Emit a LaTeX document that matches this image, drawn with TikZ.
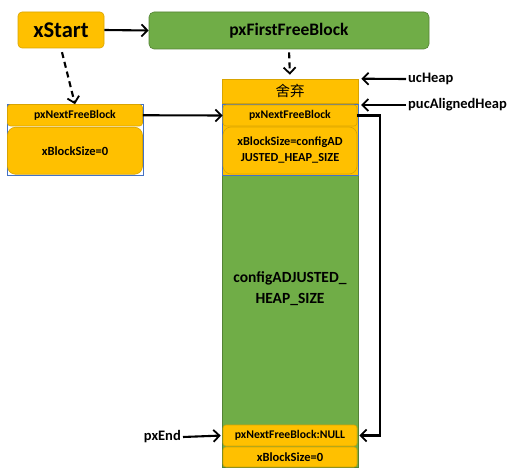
\documentclass[tikz,border=0pt]{standalone}
\usepackage{fontspec}
\setmainfont{Carlito}
\newfontfamily\cjk{Noto Sans CJK SC}
\usetikzlibrary{arrows.meta,calc}
\definecolor{orng}{HTML}{FFC000}
\definecolor{orngd}{HTML}{D9A400}
\definecolor{grn}{HTML}{70AD47}
\definecolor{grnd}{HTML}{548235}
\definecolor{blu}{HTML}{4472C4}
\tikzset{
  x=1pt,y=-1pt,
  conn/.style={line width=2.1pt,-{Straight Barb[length=6pt,width=12pt,line width=1.8pt]}},
  dconn/.style={conn,dash pattern=on 6pt off 4pt},
  obox/.style={draw=orngd,fill=orng,line width=0.6pt,font=\bfseries},
  lbl/.style={font=\bfseries\fontsize{14.5}{16}\selectfont,anchor=west,inner sep=2pt},
}
\begin{document}
\begin{tikzpicture}
\useasboundingbox (0,0) rectangle (509,473);
% top nodes
\node[obox,rounded corners=4pt,minimum width=86pt,minimum height=36pt,font=\bfseries\fontsize{22.5}{24}\selectfont] (xstart) at (61,30) {xStart};
\node[draw=grnd,fill=grn,line width=0.6pt,rounded corners=5pt,minimum width=280pt,minimum height=37pt,font=\bfseries\fontsize{17.5}{19}\selectfont] (first) at (289,30.5) {pxFirstFreeBlock};
% left block
\draw[blu,line width=0.6pt] (7,104) rectangle (143,175);
\node[obox,rounded corners=3pt,minimum width=135pt,minimum height=21.5pt,font=\bfseries\fontsize{11.7}{13}\selectfont] (lnext) at (75,115.25) {pxNextFreeBlock};
\node[obox,rounded corners=8pt,minimum width=135pt,minimum height=47pt,font=\bfseries\fontsize{12.5}{14}\selectfont] (lsize) at (75,150.75) {xBlockSize=0};
% main column
\node[draw=grnd,fill=grn,line width=0.4pt,minimum width=136pt,minimum height=388pt] (col) at (290,273) {};
\node[obox,minimum width=136pt,minimum height=24pt,inner sep=0pt,font=\cjk\fontsize{14.5}{15}\selectfont] (discard) at (290,91) {舍弃};
\draw[blu,line width=0.6pt,fill=orng] (222,104) rectangle (358,175);
\node[obox,rounded corners=3pt,minimum width=134pt,minimum height=21pt,font=\bfseries\fontsize{11.7}{13}\selectfont] (mnext) at (290,115.5) {pxNextFreeBlock};
\node[obox,rounded corners=8pt,minimum width=134pt,minimum height=47pt,inner sep=1pt,align=center,font=\bfseries\fontsize{12.3}{16}\selectfont] (msize) at (290,150.5) {xBlockSize=configAD\\JUSTED\_HEAP\_SIZE};
\node[align=center,font=\bfseries\fontsize{15.5}{21}\selectfont] (heaptxt) at (290,289) {configADJUSTED\_\\HEAP\_SIZE};
\node[obox,rounded corners=3pt,minimum width=134pt,minimum height=21pt,font=\bfseries\fontsize{11.7}{13}\selectfont] (null) at (290,435.5) {pxNextFreeBlock:NULL};
\node[obox,rounded corners=3pt,minimum width=134pt,minimum height=20pt,font=\bfseries\fontsize{12.5}{14}\selectfont] (zero) at (290,457) {xBlockSize=0};
% labels
\node[lbl] (uclabel) at (406,79) {ucHeap};
\node[lbl] (puclabel) at (406,105) {pucAlignedHeap};
\node[lbl,anchor=east] (pxend) at (183,437) {pxEnd};
% connectors
\draw[conn] (xstart.east) -- (first.west);
\draw[dconn,shorten <=4pt] (xstart.south) -- (lnext.north);
\draw[dconn,shorten <=3pt,shorten >=4pt] (first.south) -- (discard.north);
\draw[conn] (lnext.east) -- (mnext.west);
\draw[conn,shorten >=3pt] (uclabel.west) -- (discard.north east);
\draw[conn,shorten >=3pt] (puclabel.west) -- (358,105);
\draw[conn,shorten >=2pt] (pxend.east) -- (null.west);
\draw[conn] (mnext.east) -- ++(23,0) |- ([xshift=2pt]null.east);
\end{tikzpicture}
\end{document}
